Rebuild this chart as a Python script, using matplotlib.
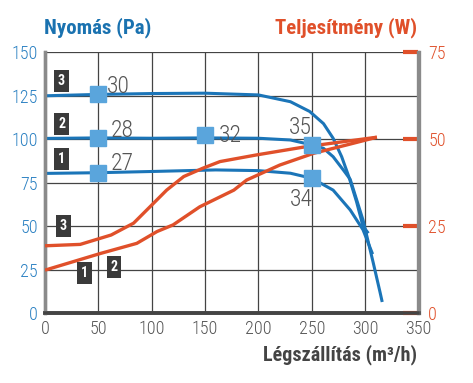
import matplotlib
matplotlib.use("Agg")
import matplotlib.pyplot as plt
from matplotlib import font_manager

# ---------------- data ----------------
x_ticks = [0, 50, 100, 150, 200, 250, 300, 350]
pa_ticks = [0, 25, 50, 75, 100, 125, 150]
w_ticks = [0, 25, 50, 75]

# pressure curves (Pa)
p3_x = [0, 50, 100, 150, 200, 230, 248, 261, 270, 278, 285, 292, 298, 303]
p3_y = [125, 125.8, 126.3, 126.5, 125.5, 121.6, 116, 109, 100.6, 90, 78, 64, 50, 46]
p2_x = [0, 50, 100, 150, 200, 230, 250, 261, 270, 280, 286, 298, 307.6, 314, 316]
p2_y = [100.5, 100.8, 100.6, 100.8, 100.6, 99.6, 96.8, 94.8, 90, 82, 77, 53.6, 29, 12, 6.5]
p1_x = [0, 50, 100, 160, 200, 230, 250, 270, 286, 298, 307]
p1_y = [80.4, 80.8, 81.5, 82.4, 82, 80.5, 77.6, 70.8, 59.4, 48, 34]

# power curves (W)
w3_x = [0, 33, 62, 83, 100, 114, 130, 148, 164, 198, 245, 311]
w3_y = [19.4, 19.8, 22.5, 25.9, 31.1, 35.4, 39.3, 41.7, 43.6, 45.5, 47.9, 50.6]
w12_x = [0, 52, 86, 105, 120, 145, 177, 189, 220, 252, 283, 311]
w12_y = [12.4, 17.2, 20.1, 23.5, 25.4, 30.6, 35.4, 38.3, 42.6, 46, 48.4, 50.6]

# marked points
pt_x = [50, 50, 50, 150, 250, 250]
pt_y = [80.8, 100.8, 125.8, 102.3, 96.7, 77.6]
pt_lbl = ["27", "28", "30", "32", "35", "34"]

# ---------------- style ----------------
names = {f.name for f in font_manager.fontManager.ttflist}
COND = "DejaVu Sans"
for cand in ("Roboto Condensed", "Archivo Narrow", "PT Sans Narrow",
             "Liberation Sans Narrow", "Open Sans Condensed", "Liberation Sans"):
    if cand in names:
        COND = cand
        break

BLUE = "#1b75b8"
SQ = "#5aa5dc"
ORANGE = "#e0502a"
DARK = "#444444"
GRAY = "#8a8a8a"
TXT = "#555555"

plt.rcParams["font.family"] = [COND, "DejaVu Sans"]
LIGHT = "light"

fig = plt.figure(figsize=(4.73, 3.83), dpi=100)
ax = fig.add_axes([45 / 473, 1 - 313.3 / 383, (418.5 - 45) / 473, (313.3 - 52.3) / 383])
ax2 = ax.twinx()

ax.set_xlim(0, 350)
ax.set_ylim(0, 150)
ax2.set_ylim(0, 75)

ax.set_xticks(x_ticks)
ax.set_yticks(pa_ticks)
ax2.set_yticks(w_ticks)
ax.grid(True, color=DARK, lw=0.9, zorder=0)
ax.set_axisbelow(True)

ax.tick_params(axis="x", length=0, pad=5, labelsize=13, labelcolor=TXT)
ax.tick_params(axis="y", length=0, pad=5, labelsize=13, labelcolor="#2a80c2")
ax2.tick_params(axis="y", direction="in", length=11, width=3, color=ORANGE,
                pad=7, labelsize=13, labelcolor=ORANGE)
for lab in ax.get_xticklabels() + ax.get_yticklabels() + ax2.get_yticklabels():
    lab.set_fontweight(LIGHT)

for a in (ax, ax2):
    a.spines["top"].set_visible(False)
    a.spines["left"].set_color(GRAY)
    a.spines["left"].set_linewidth(2.4)
    a.spines["right"].set_color(GRAY)
    a.spines["right"].set_linewidth(2.4)
    a.spines["bottom"].set_color(DARK)
    a.spines["bottom"].set_linewidth(2.6)

# pressure curves
for xs, ys in ((p3_x, p3_y), (p2_x, p2_y), (p1_x, p1_y)):
    ax.plot(xs, ys, color=BLUE, lw=2.2, solid_capstyle="butt", zorder=3)

# power curves
for xs, ys in ((w3_x, w3_y), (w12_x, w12_y)):
    ax2.plot(xs, ys, color=ORANGE, lw=2.4, solid_capstyle="butt", zorder=3)

# squares on top
ax2.plot(pt_x, pt_y, "s", color=SQ, ms=12, transform=ax.transData, zorder=5, clip_on=False)
offs = {"27": (12, 9, "left"), "28": (12, 7, "left"), "30": (9, 8, "left"),
        "32": (14, 0, "left"), "35": (-11, 18, "center"), "34": (-10, -21, "center")}
for x, y, t in zip(pt_x, pt_y, pt_lbl):
    dx, dy, ha = offs[t]
    ax2.annotate(t, (x, y), xycoords=ax.transData, xytext=(dx, dy),
                 textcoords="offset pixels", ha=ha, va="center",
                 fontsize=17, color=TXT, fontweight=LIGHT, zorder=6)

# curve number boxes
box = dict(boxstyle="square,pad=0.28", fc="#3a3a3a", ec="none")
for x, y, t in ((15.5, 133.5, "3"), (15.5, 108.7, "2"), (15.5, 88.7, "1")):
    ax.text(x, y, t, ha="center", va="center", color="white", fontsize=10,
            fontweight="bold", bbox=box, zorder=6)
for x, y, t in ((17, 25, "3"), (37, 11.5, "1"), (64.7, 13.2, "2")):
    ax2.text(x, y, t, ha="center", va="center", color="white", fontsize=10,
             fontweight="bold", bbox=box, zorder=6)

# titles
fig.text(44 / 473, 1 - 28 / 383, "Nyomás (Pa)", color="#1a72b0", fontsize=15,
         fontweight="bold", ha="left", va="center")
fig.text(417 / 473, 1 - 28 / 383, "Teljesítmény (W)", color=ORANGE, fontsize=15,
         fontweight="bold", ha="right", va="center")
fig.text(417 / 473, 1 - 355 / 383, "Légszállítás (m³/h)", color=DARK, fontsize=14.5,
         fontweight="bold", ha="right", va="center")

fig.savefig("out.png", dpi=100)
